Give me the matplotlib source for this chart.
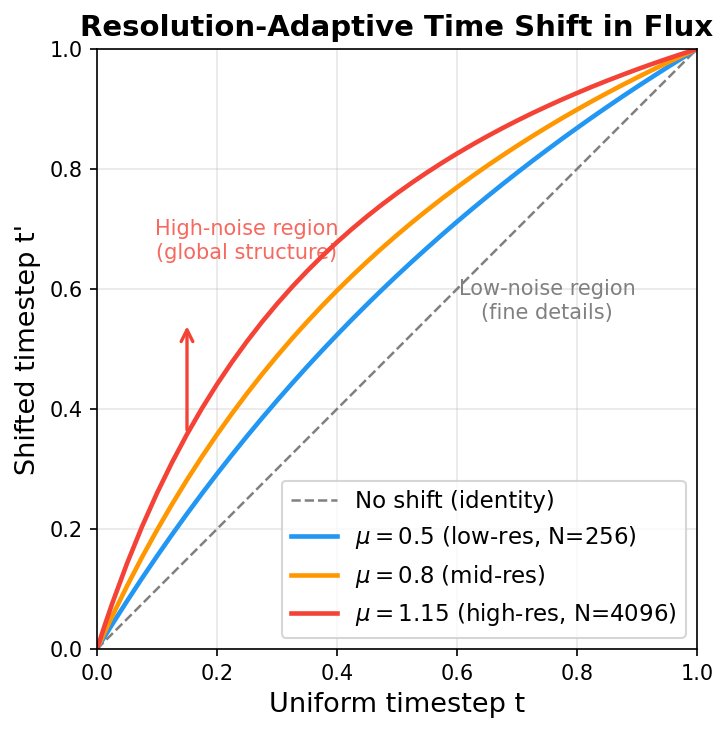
import matplotlib
matplotlib.use('Agg')
import matplotlib.pyplot as plt

# Values
t_vals = [0.0, 0.0125, 0.025, 0.05, 0.075, 0.1, 0.125, 0.15, 0.175, 0.2, 0.225,
          0.25, 0.275, 0.3, 0.325, 0.35, 0.375, 0.4, 0.425, 0.45, 0.475, 0.5,
          0.525, 0.55, 0.575, 0.6, 0.625, 0.65, 0.675, 0.7, 0.725, 0.75, 0.775,
          0.8, 0.825, 0.85, 0.875, 0.9, 0.925, 0.95, 0.975, 1.0]
shift_mu_05 = [0.0, 0.0204, 0.0406, 0.0798, 0.1179, 0.1548, 0.1906, 0.2254, 0.2591,
               0.2919, 0.3237, 0.3547, 0.3848, 0.4140, 0.4425, 0.4703, 0.4973,
               0.5236, 0.5493, 0.5743, 0.5987, 0.6225, 0.6457, 0.6683, 0.6905,
               0.7121, 0.7332, 0.7538, 0.7740, 0.7937, 0.8130, 0.8318, 0.8503,
               0.8683, 0.8860, 0.9033, 0.9203, 0.9369, 0.9531, 0.9691, 0.9847, 1.0]
shift_mu_08 = [0.0, 0.0274, 0.0540, 0.1049, 0.1529, 0.1983, 0.2412, 0.2820, 0.3207,
               0.3575, 0.3925, 0.4259, 0.4578, 0.4882, 0.5173, 0.5451, 0.5718,
               0.5974, 0.6219, 0.6455, 0.6682, 0.6900, 0.7110, 0.7312, 0.7507,
               0.7695, 0.7877, 0.8052, 0.8221, 0.8385, 0.8544, 0.8697, 0.8846,
               0.8990, 0.9130, 0.9265, 0.9397, 0.9524, 0.9648, 0.9769, 0.9886, 1.0]
shift_mu_115 = [0.0, 0.0384, 0.0749, 0.1425, 0.2039, 0.2598, 0.3109, 0.3579, 0.4012,
                0.4412, 0.4783, 0.5128, 0.5450, 0.5751, 0.6033, 0.6297, 0.6546,
                0.6780, 0.7001, 0.7210, 0.7408, 0.7595, 0.7773, 0.7942, 0.8103,
                0.8257, 0.8403, 0.8543, 0.8677, 0.8805, 0.8928, 0.9045, 0.9158,
                0.9266, 0.9371, 0.9471, 0.9567, 0.9660, 0.9750, 0.9836, 0.9919, 1.0]
identity = [0.0, 1.0]

series_labels = [r'$\mu = 0.5$ (low-res, N=256)',
                 r'$\mu = 0.8$ (mid-res)',
                 r'$\mu = 1.15$ (high-res, N=4096)']
series_colors = ['#2196F3', '#FF9800', '#F44336']

fig = plt.figure(figsize=(728 / 150, 732 / 150), dpi=150)
ax = fig.add_axes([97 / 728, 1 - 649 / 732, 600 / 728, 600 / 732])

ax.plot(identity, identity, '--', color='gray', lw=1.2, label='No shift (identity)')
for ys, lab, col in zip([shift_mu_05, shift_mu_08, shift_mu_115], series_labels, series_colors):
    ax.plot(t_vals, ys, color=col, lw=2.2, label=lab, solid_joinstyle='round')

# arrow showing the upward shift at t=0.15
ax.annotate('', xy=(0.15, 0.545), xytext=(0.15, 0.358),
            arrowprops=dict(arrowstyle='->', color='#F44336', lw=1.6,
                            mutation_scale=14))
ax.text(0.25, 0.68, 'High-noise region\n(global structure)', ha='center', va='center',
        fontsize=10, color='#F44336', alpha=0.8)
ax.text(0.75, 0.58, 'Low-noise region\n(fine details)', ha='center', va='center',
        fontsize=10, color='gray')

ax.set_xlim(0, 1)
ax.set_ylim(0, 1)
ax.set_xlabel('Uniform timestep t', fontsize=13)
ax.set_ylabel("Shifted timestep t'", fontsize=13)
ax.set_title('Resolution-Adaptive Time Shift in Flux', fontsize=14, fontweight='bold')
ax.grid(True, alpha=0.3)
ax.legend(loc='lower right', fontsize=11)

fig.savefig('out.png', dpi=150)
